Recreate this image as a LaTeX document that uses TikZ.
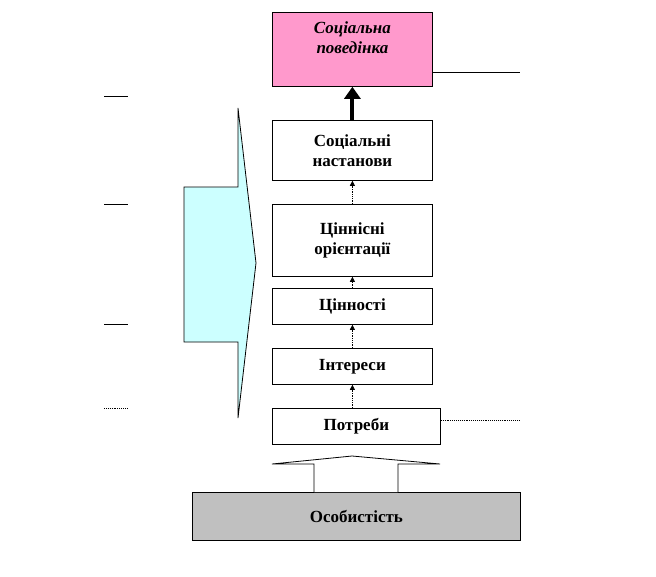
\documentclass[tikz,border=0pt]{standalone}
\usepackage{fontspec}
\setmainfont{Liberation Serif}
\usetikzlibrary{arrows.meta}
\definecolor{pinkbox}{HTML}{FF99CC}
\definecolor{cyanarrow}{HTML}{CCFFFF}
\definecolor{greybox}{HTML}{C0C0C0}
\begin{document}
\begin{tikzpicture}[x=1pt,y=-1pt,
  box/.style={draw=black,line width=0.8pt,fill=white,minimum width=160pt,inner sep=0pt,anchor=north west,align=center,font=\bfseries\fontsize{17}{20}\selectfont},
  lbl/.style={align=center,font=\bfseries\fontsize{17}{20}\selectfont,inner sep=0pt},
  thinarrow/.style={densely dotted,line width=0.8pt,-{Triangle[length=5pt,width=5pt]}},
  thickarrow/.style={line width=4pt,-{Triangle[length=12pt,width=16pt]}},
  sideline/.style={line width=0.9pt}]
\useasboundingbox (0,0) rectangle (656,576);
% left dashes
\coordinate (d1a) at (104,96);  \coordinate (d1b) at (128,96);
\coordinate (d2a) at (104,204); \coordinate (d2b) at (128,204);
\coordinate (d3a) at (104,324); \coordinate (d3b) at (128,324);
\coordinate (d4a) at (104,408); \coordinate (d4b) at (128,408);
\draw[sideline] (d1a) -- (d1b);
\draw[sideline] (d2a) -- (d2b);
\draw[sideline] (d3a) -- (d3b);
\draw[sideline,densely dotted] (d4a) -- (d4b);
% cyan arrow
\draw[fill=cyanarrow,line width=0.8pt] (184,187) -- (238,187) -- (238,108) -- (256,263) -- (238,418) -- (238,342) -- (184,342) -- cycle;
% boxes
\node[box,fill=pinkbox,minimum height=74pt] (beh) at (272,12) {};
\node[lbl,font=\bfseries\itshape\fontsize{17}{20}\selectfont] (behtxt) at ([yshift=-26pt]beh.north) {Соціальна\\поведінка};
\node[box,minimum height=60pt] (nast) at (272,120) {Соціальні\\настанови};
\node[box,minimum height=72pt] (orient) at (272,204) {Ціннісні\\орієнтації};
\node[box,minimum height=36pt] (cin) at (272,288) {Цінності};
\node[box,minimum height=36pt] (int) at (272,348) {Інтереси};
\node[box,minimum width=168pt,minimum height=36pt] (pot) at (272,408) {Потреби};
\node[box,fill=greybox,minimum width=328pt,minimum height=48pt] (os) at (192,492) {Особистість};
% right lines
\coordinate (r1) at (520,72);
\coordinate (r2) at (520,420);
\draw[sideline] (beh.east |- r1) -- (r1);
\draw[sideline,densely dotted] (pot.east |- r2) -- (r2);
% arrows
\draw[thickarrow] (nast.north) -- (beh.south);
\draw[thinarrow] (orient.north) -- (nast.south);
\draw[thinarrow] (cin.north) -- (orient.south);
\draw[thinarrow] (int.north) -- (cin.south);
\draw[thinarrow] (int.south |- pot.north) -- (int.south);
% block arrow from personality
\draw[fill=white,line width=0.8pt] (314,492) -- (314,464) -- (272,464) -- (352,456) -- (440,464) -- (398,464) -- (398,492);
\end{tikzpicture}
\end{document}
